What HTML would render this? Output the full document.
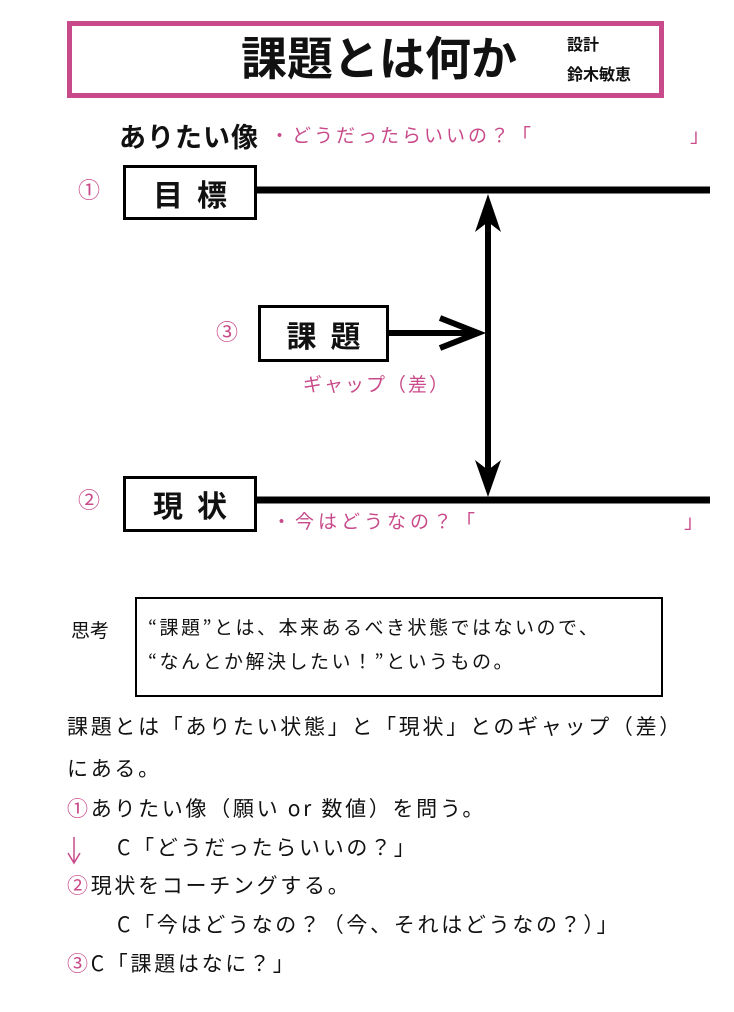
<!DOCTYPE html>
<html><head><meta charset="utf-8"><style>
body{margin:0;width:734px;height:1012px;background:#fff;position:relative;overflow:hidden;font-family:"Noto Sans CJK JP","Liberation Sans",sans-serif;color:#111}
.a{position:absolute;white-space:nowrap;line-height:1}
.p{color:#c94a8a}
.box{position:absolute;border:3px solid #000;box-sizing:border-box;display:flex;align-items:center;justify-content:center;font-weight:bold;font-size:30px;letter-spacing:14px;padding-left:14px}
.t{font-size:21px;letter-spacing:2.7px}
</style></head><body>
<div style="position:absolute;left:67px;top:21px;width:597px;height:77px;border:5px solid #c94a8a;box-sizing:border-box"></div>
<div class="a" style="left:241px;top:33px;font-size:46px;font-weight:bold">課題とは何か</div>
<div class="a" style="left:567px;top:35px;font-size:16px;font-weight:bold">設計</div>
<div class="a" style="left:567px;top:65px;font-size:16px;font-weight:bold">鈴木敏恵</div>
<div class="a" style="left:119px;top:122px;font-size:27px;font-weight:bold;letter-spacing:1px">ありたい像</div>
<div class="a p" style="left:270px;top:125px;font-size:19px;letter-spacing:3px">・どうだったらいいの？「</div>
<div class="a p" style="left:690px;top:125px;font-size:19px">」</div>
<div class="a p" style="left:78px;top:178px;font-size:22px">①</div>
<div class="box" style="left:123px;top:165px;width:134px;height:55px">目標</div>
<div class="a p" style="left:216px;top:320px;font-size:22px">③</div>
<div class="box" style="left:258px;top:305px;width:131px;height:57px">課題</div>
<div class="a p" style="left:303px;top:374px;font-size:19px;letter-spacing:2px">ギャップ（差）</div>
<div class="a p" style="left:78px;top:488px;font-size:22px">②</div>
<div class="box" style="left:123px;top:476px;width:134px;height:56px">現状</div>
<div class="a p" style="left:272px;top:511px;font-size:19px;letter-spacing:4px">・今はどうなの？「</div>
<div class="a p" style="left:684px;top:511px;font-size:19px">」</div>
<svg style="position:absolute;left:0;top:0" width="734" height="1012">
<line x1="256" y1="190" x2="710" y2="190" stroke="#000" stroke-width="7"/>
<line x1="256" y1="500" x2="710" y2="500" stroke="#000" stroke-width="7"/>
<line x1="488" y1="205" x2="488" y2="485" stroke="#000" stroke-width="6"/>
<polygon points="488,194 475,232 488,222 501,232" fill="#000"/>
<polygon points="488,497 475,460 488,470 501,460" fill="#000"/>
<line x1="388" y1="333" x2="475" y2="333" stroke="#000" stroke-width="6"/>
<polyline points="440,318 478,333 440,348" fill="none" stroke="#000" stroke-width="6"/>
<line x1="74" y1="837" x2="74" y2="862" stroke="#c94a8a" stroke-width="1.5"/>
<polyline points="68,853 74,863 80,853" fill="none" stroke="#c94a8a" stroke-width="1.5"/>
</svg>
<div class="a" style="left:71px;top:620px;font-size:19px">思考</div>
<div style="position:absolute;left:135px;top:597px;width:528px;height:100px;border:2px solid #000;box-sizing:border-box"></div>
<div class="a" style="left:148px;top:617px;font-size:19px;letter-spacing:2.5px">“課題”とは、本来あるべき状態ではないので、</div>
<div class="a" style="left:148px;top:651px;font-size:19px;letter-spacing:2.5px">“なんとか解決したい！”というもの。</div>
<div class="a t" style="left:67px;top:716px">課題とは「ありたい状態」と「現状」とのギャップ（差）</div>
<div class="a t" style="left:67px;top:758px">にある。</div>
<div class="a t" style="left:67px;top:798px"><span class="p">①</span>ありたい像（願い or 数値）を問う。</div>
<div class="a t" style="left:117px;top:837px">C「どうだったらいいの？」</div>
<div class="a t" style="left:67px;top:875px"><span class="p">②</span>現状をコーチングする。</div>
<div class="a t" style="left:117px;top:914px">C「今はどうなの？（今、それはどうなの？）」</div>
<div class="a t" style="left:67px;top:953px"><span class="p">③</span>C「課題はなに？」</div>
</body></html>
